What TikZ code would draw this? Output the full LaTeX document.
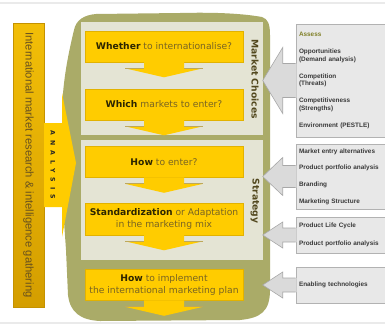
\documentclass[tikz,border=0pt]{standalone}
\usepackage{fontspec}
\setmainfont{DejaVu Sans}
\newfontfamily\listfont{Liberation Sans}
\usetikzlibrary{calc}

\definecolor{gold}{RGB}{255,204,0}
\definecolor{golddark}{RGB}{226,178,0}
\definecolor{barleft}{RGB}{212,158,0}
\definecolor{barright}{RGB}{242,190,8}
\definecolor{bardraw}{RGB}{196,146,0}
\definecolor{bartext}{RGB}{105,82,30}
\definecolor{olive}{RGB}{170,171,104}
\definecolor{panel}{RGB}{228,228,212}
\definecolor{boxgray}{RGB}{232,232,232}
\definecolor{linegray}{RGB}{178,178,178}
\definecolor{arrowgray}{RGB}{218,218,218}
\definecolor{arrowline}{RGB}{168,168,168}
\definecolor{listtext}{RGB}{58,58,58}
\definecolor{assess}{RGB}{128,128,40}
\definecolor{darktext}{RGB}{45,38,0}
\definecolor{softtext}{RGB}{120,100,35}
\definecolor{labeltext}{RGB}{82,72,30}
\definecolor{shouldercol}{RGB}{190,168,90}
\definecolor{framegray}{RGB}{234,234,234}

% bold first word of a step
\newcommand{\stepword}[1]{\textbf{\color{darktext}#1}}

% yellow chevron under a step box
\newcommand{\steparrow}[1]{%
	\fill[gold] ($(#1.south)+(-20,-0.5)$) -- ($(#1.south)+(-20,6)$) -- ($(#1.south)+(-39,6)$)
		-- ($(#1.south)+(0,15)$) -- ($(#1.south)+(39,6)$) -- ($(#1.south)+(20,6)$)
		-- ($(#1.south)+(20,-0.5)$) -- cycle;
	\draw[shoulder] ($(#1.south)+(-39,6)$) -- ($(#1.south)+(-20,6)$)
		($(#1.south)+(20,6)$) -- ($(#1.south)+(39,6)$);
}

% grey arrow leaving a list box to the left: node, head half, stem half
\newcommand{\feedarrow}[3]{%
	\fill[arrowgray] ($(#1.west)+(1,-#3)$) -- ($(#1.west)+(-13,-#3)$) -- ($(#1.west)+(-13,-#2)$)
		-- ($(#1.west)+(-33,0)$) -- ($(#1.west)+(-13,#2)$) -- ($(#1.west)+(-13,#3)$)
		-- ($(#1.west)+(1,#3)$) -- cycle;
	\draw[arrowline,line width=0.6pt] ($(#1.west)+(0,-#3)$) -- ($(#1.west)+(-13,-#3)$) -- ($(#1.west)+(-13,-#2)$)
		-- ($(#1.west)+(-33,0)$) -- ($(#1.west)+(-13,#2)$) -- ($(#1.west)+(-13,#3)$)
		-- ($(#1.west)+(0,#3)$);
}

\begin{document}
\begin{tikzpicture}[x=1pt,y=-1pt,
		ybox/.style={fill=gold,draw=golddark,line width=0.6pt,minimum width=158pt,minimum height=31pt,
			align=center,text=softtext,inner sep=1pt,font=\fontsize{9.2}{12.5}\selectfont},
		gbox/.style={fill=boxgray,draw=linegray,line width=0.6pt,text width=83pt,inner xsep=3pt,inner ysep=0pt,
			align=left,text=listtext,font=\listfont\bfseries\fontsize{6.4}{7.5}\selectfont},
		sidelabel/.style={rotate=-90,text=labeltext,font=\bfseries\fontsize{9.2}{10}\selectfont},
		shoulder/.style={draw=shouldercol,line width=0.8pt}]

	\useasboundingbox (0,0) rectangle (385,327);

	% frame lines
	\draw [framegray, line width=2pt] (0,3) -- (385,3) ;
	\draw [framegray, line width=2pt] (0,323) -- (385,323) ;

	% olive backdrop
	\fill [olive] (74,30) .. controls (76,20) and (84,15) .. (96,14) -- (180,13)
		.. controls (220,12) and (245,14) .. (262,17) .. controls (268,19) and (270,24) .. (270,35)
		-- (270,290) .. controls (270,312) and (260,318) .. (240,320) -- (100,321)
		.. controls (80,320) and (70,312) .. (68,295) -- (66,250)
		.. controls (64,220) and (62,200) .. (62,160) -- (62,110)
		.. controls (63,80) and (68,55) .. (74,30) -- cycle;

	% panels
	\fill [panel] (81,22) rectangle (263,135) ;
	\fill [panel] (81,140) rectangle (263,260) ;

	% research bar
	\node [rotate=-90, minimum width=284pt, minimum height=31pt, inner sep=0pt,
		top color=barright, bottom color=barleft, draw=bardraw, text=bartext,
		font=\listfont\fontsize{11.2}{13}\selectfont] (research) at (28.5,165)
		{International market research \& intelligence gathering};

	% analysis arrow
	\fill [gold] (44,123) -- (62,123) -- (62,93) -- (76,163) -- (62,237) -- (62,207) -- (44,207) -- cycle;
	\node [rotate=-90, text=black!85,
		font={\bfseries\fontsize{6.2}{7}\selectfont\addfontfeature{LetterSpace=80}}] (analysis) at (53,165) {ANALYSIS};

	% steps
	\node [ybox] (whether) at (164,46.5) {\stepword{Whether} to internationalise?};
	\node [ybox] (which) at (164,104.5) {\stepword{Which} markets to enter?};
	\node [ybox] (howenter) at (164,162) {\stepword{How} to enter?};
	\node [ybox, minimum height=32pt] (standard) at (164,219) {\stepword{Standardization} or Adaptation\\in the marketing mix};
	\node [ybox] (implement) at (164,285) {\stepword{How} to implement\\the international marketing plan};

	\steparrow{whether}
	\steparrow{which}
	\steparrow{howenter}
	\steparrow{standard}
	\steparrow{implement}

	% side labels
	\node [sidelabel] (choices) at (255,79) {Market Choices};
	\node [sidelabel] (strategy) at (255,201) {Strategy};

	% list boxes
	\node [gbox, minimum height=113pt] (assessbox) at (340.5,80.5)
		{{\color{assess}Assess}\\[9.5pt]Opportunities\\(Demand analysis)\\[9.5pt]Competition\\(Threats)\\[9.5pt]Competitiveness\\(Strengths)\\[9.5pt]Environment (PESTLE)};
	\node [gbox, minimum height=65pt] (entrybox) at (340.5,176.5)
		{Market entry alternatives\\[9.2pt]Product portfolio analysis\\[9.2pt]Branding\\[9.2pt]Marketing Structure};
	\node [gbox, minimum height=36pt] (cyclebox) at (340.5,235)
		{Product Life Cycle\\[10.5pt]Product portfolio analysis};
	\node [gbox, minimum height=36pt] (techbox) at (340.5,285)
		{Enabling technologies};

	\feedarrow{assessbox}{33}{17}
	\feedarrow{entrybox}{19}{11}
	\feedarrow{cyclebox}{13}{7}
	\feedarrow{techbox}{13}{7}
\end{tikzpicture}
\end{document}
